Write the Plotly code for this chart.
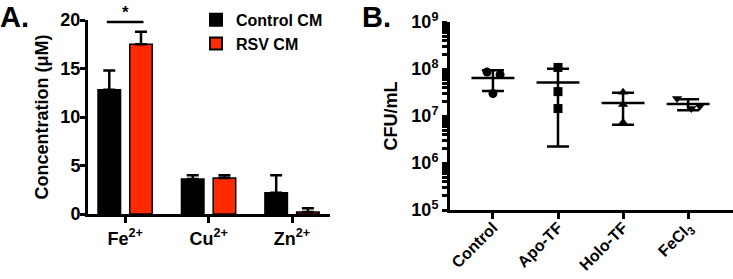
import numpy as np
import plotly.graph_objects as go

# ---------------- Panel A data ----------------
ions = ["Fe<sup>2+</sup>", "Cu<sup>2+</sup>", "Zn<sup>2+</sup>"]
control_cm = [12.8, 3.6, 2.2]
control_cm_err = [2.0, 0.4, 1.8]
rsv_cm = [17.5, 3.7, 0.2]
rsv_cm_err = [1.3, 0.3, 0.4]

# ---------------- Panel B data ----------------
groups = ["Control", "Apo-TF", "Holo-TF", "FeCl<sub>3</sub>"]
cfu_control = [8.6e7, 7.6e7, 3.0e7]
cfu_apo = [1.08e8, 3.3e7, 1.44e7]
cfu_holo = [3.2e7, 1.75e7, 7.3e6]
cfu_fecl3 = [2.35e7, 1.44e7, 1.62e7]
cfu_sets = [cfu_control, cfu_apo, cfu_holo, cfu_fecl3]
symbols = ["circle", "square", "triangle-up", "triangle-down"]
jitter = [[-0.09, 0.11, 0.0], [0.0, 0.0, 0.0], [0.0, 0.0, 0.0], [-0.17, 0.05, 0.18]]

# log axis ticks: decades labelled, 2..9 unlabelled
log_exponents = [5, 6, 7, 8, 9]
log_tickvals = []
log_ticktext = []
for e in log_exponents:
    log_tickvals.append(10.0 ** e)
    log_ticktext.append(f"10<sup>{e}</sup>")
    if e < log_exponents[-1]:
        for k in range(2, 10):
            log_tickvals.append(k * 10.0 ** e)
            log_ticktext.append("")

FONT = "Liberation Sans, Arial, sans-serif"
RED = "#FF2A00"

fig = go.Figure()

bargap = 0.24
fig.add_trace(go.Bar(
    x=ions, y=control_cm, name="Control CM",
    marker=dict(color="black", line=dict(color="black", width=1.5)),
    error_y=dict(type="data", array=control_cm_err, arrayminus=[0] * 3, symmetric=False,
                 color="black", thickness=2.5, width=6),
    xaxis="x", yaxis="y",
))
fig.add_trace(go.Bar(
    x=ions, y=rsv_cm, name="RSV CM",
    marker=dict(color=RED, line=dict(color="black", width=1.5)),
    error_y=dict(type="data", array=rsv_cm_err, arrayminus=[0] * 3, symmetric=False,
                 color="black", thickness=2.5, width=6),
    xaxis="x", yaxis="y",
))

# significance bar over Fe2+
off = (1 - bargap) / 4
sig_y = max(r + e for r, e in zip(rsv_cm, rsv_cm_err)) + 1.0
fig.add_shape(type="line", xref="x", yref="y", x0=-off - 0.03, x1=off + 0.03,
              y0=sig_y, y1=sig_y, line=dict(color="black", width=2.5))
fig.add_annotation(xref="x", yref="y", x=0, y=sig_y, text="<b>*</b>", showarrow=False,
                   yanchor="bottom", yshift=-2, font=dict(family=FONT, size=17, color="black"))

# Panel B: individual points
for i, (vals, sym) in enumerate(zip(cfu_sets, symbols)):
    fig.add_trace(go.Scatter(
        x=[i + j for j in jitter[i]], y=vals, mode="markers",
        marker=dict(symbol=sym, size=9, color="black"),
        showlegend=False, xaxis="x2", yaxis="y2",
    ))

# Panel B: mean +/- SD
means = [float(np.mean(v)) for v in cfu_sets]
sds = [float(np.std(v, ddof=1)) for v in cfu_sets]
fig.add_trace(go.Scatter(
    x=list(range(len(groups))), y=means, mode="markers",
    marker=dict(size=1, color="black"),
    error_x=dict(type="constant", value=0.33, color="black", thickness=2.5, width=0),
    error_y=dict(type="data", array=sds, color="black", thickness=2.5, width=11),
    showlegend=False, xaxis="x2", yaxis="y2",
))

tickfont = dict(family=FONT, size=18, color="black", weight="bold")
titlefont = dict(family=FONT, size=18, color="black", weight="bold")

fig.update_layout(
    width=733, height=279,
    margin=dict(l=0, r=0, t=0, b=0, autoexpand=False),
    paper_bgcolor="white", plot_bgcolor="white",
    barmode="group", bargap=bargap, bargroupgap=0.29,
    font=dict(family=FONT, color="black"),
    xaxis=dict(domain=[88 / 733, 330 / 733], range=[-0.445, 2.455], automargin=False,
               showline=True, linecolor="black", linewidth=3,
               ticks="outside", ticklen=6, tickwidth=3, tickcolor="black",
               tickfont=tickfont, anchor="y", showgrid=False, zeroline=False),
    yaxis=dict(domain=[(279 - 214) / 279, (279 - 20) / 279], range=[0, 20],
               tickvals=[0, 5, 10, 15, 20], automargin=False,
               showline=True, linecolor="black", linewidth=3,
               ticks="outside", ticklen=5, tickwidth=3, tickcolor="black",
               ticklabelstandoff=-4,
               tickfont=tickfont, anchor="x", showgrid=False, zeroline=False,
               title=dict(text="Concentration (μM)", font=titlefont, standoff=8)),
    xaxis2=dict(domain=[450 / 733, 1.0], range=[-0.66, 3.69], automargin=False,
                tickvals=list(range(len(groups))), ticktext=groups, tickangle=-45,
                showline=True, linecolor="black", linewidth=3,
                ticks="outside", ticklen=6, tickwidth=3, tickcolor="black",
                ticklabelstandoff=-7,
                tickfont=dict(family=FONT, size=16, color="black", weight="bold"),
                anchor="y2", showgrid=False, zeroline=False),
    yaxis2=dict(domain=[(279 - 210) / 279, (279 - 22) / 279], type="log", range=[5, 9],
                tickvals=log_tickvals, ticktext=log_ticktext, automargin=False,
                showline=True, linecolor="black", linewidth=3,
                ticks="outside", ticklen=5, tickwidth=2.5, tickcolor="black",
                tickfont=tickfont, anchor="x2", showgrid=False, zeroline=False,
                title=dict(text="CFU/mL", font=titlefont, standoff=10)),
    legend=dict(x=196 / 733, y=0.99, xanchor="left", yanchor="top",
                font=dict(family=FONT, size=16, color="black", weight="bold"),
                bgcolor="rgba(0,0,0,0)", tracegroupgap=0, itemsizing="constant"),
)

fig.add_annotation(xref="paper", yref="paper", x=0, y=1.0, xanchor="left", yanchor="top",
                   text="<b>A.</b>", showarrow=False, yshift=1, xshift=-2,
                   font=dict(family=FONT, size=29, color="black"))
fig.add_annotation(xref="paper", yref="paper", x=362 / 733, y=1.0, xanchor="left", yanchor="top",
                   text="<b>B.</b>", showarrow=False, yshift=1, xshift=-2,
                   font=dict(family=FONT, size=29, color="black"))

fig.write_html("out.html", config={"displayModeBar": False},
               post_script="document.body.style.margin='0';document.body.style.padding='0';")
